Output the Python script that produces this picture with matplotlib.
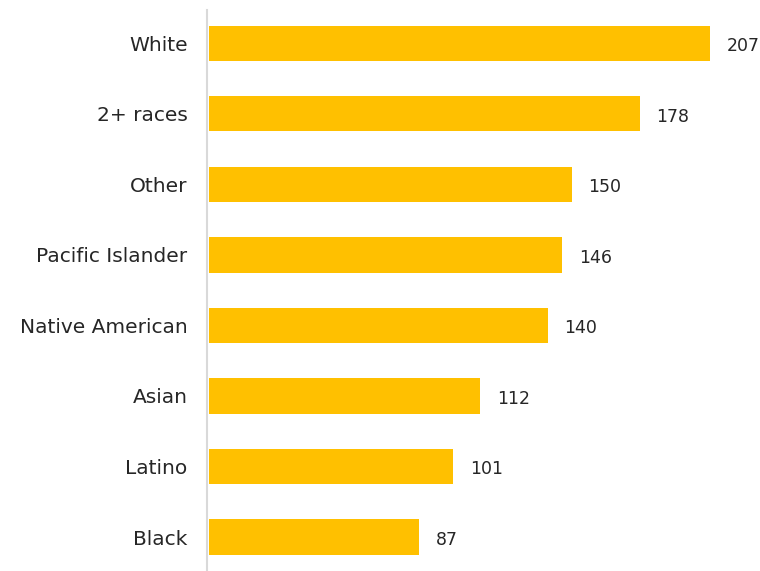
import matplotlib.pyplot as plt

categories = ['White', '2+ races', 'Other', 'Pacific Islander',
              'Native American', 'Asian', 'Latino', 'Black']
values = [207, 178, 150, 146, 140, 112, 101, 87]

BAR_COLOR = '#FFC000'
TEXT_COLOR = '#262626'

fig = plt.figure(figsize=(7.6, 5.71), dpi=100)
ax = fig.add_axes([207 / 760, 0.0, 1 - 207 / 760, 561 / 571])

pos = list(range(len(categories)))
bars = ax.barh(pos, values, height=0.5, color=BAR_COLOR, left=0.8)

for y, v in zip(pos, values):
    ax.annotate(str(v), xy=(v + 0.8, y), xytext=(12, -2), textcoords='offset points',
                ha='left', va='center', fontsize=12.5, color=TEXT_COLOR)

ax.set_xlim(0, 228.5)
ax.set_ylim(7.48, -0.47)
ax.set_yticks(pos)
ax.set_yticklabels(categories, fontsize=14.5, color=TEXT_COLOR)
ax.tick_params(axis='y', length=0, pad=14)
ax.set_xticks([])

for side in ['top', 'right', 'bottom']:
    ax.spines[side].set_visible(False)
ax.spines['left'].set_color('#D9D9D9')
ax.spines['left'].set_linewidth(1.5)

fig.savefig('out.png', dpi=100)
